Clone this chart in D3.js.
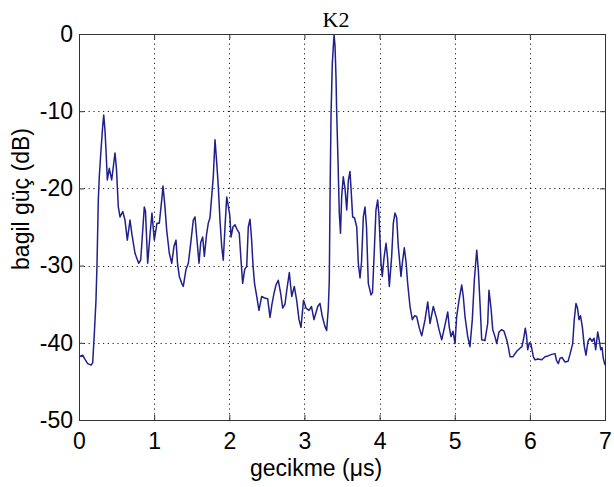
<!DOCTYPE html>
<html><head><meta charset="utf-8">
<script src="https://cdn.jsdelivr.net/npm/d3@7"></script>
<style>body{margin:0;background:#fff}svg{display:block}</style>
</head><body>
<script>
const title = "K2";
const xLabel = "gecikme (\u03BCs)";
const yLabel = "bagil güç (dB)";
const xTicks = [0,1,2,3,4,5,6,7];
const yTicks = [-50,-40,-30,-20,-10,0];
const delay = [0,0.049,0.084,0.116,0.160,0.182,0.204,0.226,0.240,0.257,0.270,0.293,0.315,0.329,0.346,0.359,0.377,0.403,0.435,0.459,0.479,0.499,0.523,0.546,0.582,0.612,0.643,0.679,0.705,0.745,0.794,0.821,0.869,0.885,0.914,0.945,0.971,1.002,1.038,1.069,1.105,1.118,1.144,1.167,1.202,1.234,1.264,1.291,1.311,1.335,1.367,1.388,1.424,1.455,1.487,1.521,1.544,1.566,1.597,1.620,1.646,1.668,1.697,1.721,1.743,1.766,1.787,1.810,1.833,1.854,1.876,1.899,1.920,1.943,1.966,1.990,2.007,2.023,2.049,2.076,2.103,2.133,2.156,2.178,2.205,2.232,2.253,2.276,2.296,2.316,2.336,2.365,2.395,2.431,2.469,2.511,2.542,2.568,2.595,2.622,2.652,2.682,2.711,2.741,2.768,2.799,2.831,2.865,2.897,2.928,2.954,2.988,3.021,3.061,3.094,3.127,3.177,3.207,3.238,3.274,3.296,3.318,3.331,3.340,3.354,3.371,3.394,3.407,3.420,3.429,3.447,3.464,3.480,3.496,3.517,3.540,3.563,3.584,3.606,3.620,3.642,3.666,3.696,3.717,3.740,3.760,3.784,3.806,3.826,3.850,3.886,3.906,3.930,3.952,3.975,3.992,4.019,4.036,4.059,4.086,4.106,4.130,4.161,4.183,4.205,4.228,4.249,4.285,4.305,4.329,4.352,4.374,4.405,4.436,4.465,4.494,4.529,4.561,4.605,4.641,4.671,4.715,4.758,4.791,4.827,4.864,4.907,4.928,4.951,4.977,5.004,5.026,5.057,5.093,5.114,5.137,5.173,5.203,5.234,5.261,5.293,5.314,5.337,5.359,5.403,5.439,5.456,5.483,5.506,5.536,5.559,5.589,5.625,5.656,5.692,5.713,5.736,5.776,5.825,5.869,5.895,5.922,5.939,5.955,5.971,5.993,6.015,6.046,6.068,6.108,6.158,6.202,6.241,6.291,6.335,6.355,6.379,6.401,6.428,6.468,6.508,6.534,6.570,6.591,6.614,6.634,6.654,6.674,6.698,6.725,6.747,6.774,6.800,6.827,6.854,6.876,6.903,6.920,6.943,6.960,6.977,7.000];
const power = [-41.8,-41.6,-42.2,-42.7,-42.9,-42.6,-38.8,-34.5,-29.7,-21.5,-18.5,-15.0,-12.0,-10.5,-12.5,-15.0,-18.9,-17.4,-18.9,-17.0,-15.4,-17.5,-22.4,-23.7,-23.0,-24.1,-26.7,-24.1,-26.0,-28.4,-29.7,-29.3,-22.4,-23.0,-29.7,-26.0,-23.2,-26.7,-24.5,-24.5,-21.1,-19.7,-22.4,-25.4,-28.4,-29.7,-27.5,-26.7,-29.7,-31.4,-32.3,-32.7,-30.5,-29.7,-27.1,-24.1,-23.7,-26.2,-29.7,-27.0,-26.3,-28.8,-26.0,-24.5,-23.8,-21.0,-18.5,-13.7,-16.7,-19.8,-24.1,-27.5,-29.3,-25.0,-21.1,-22.5,-23.5,-26.3,-25.0,-24.7,-25.3,-25.8,-29.3,-32.3,-30.5,-30.1,-25.0,-24.0,-26.5,-30.0,-32.3,-34.0,-35.8,-34.0,-34.2,-34.3,-36.7,-35.0,-33.6,-32.5,-31.9,-33.5,-35.5,-35.0,-33.0,-30.9,-34.0,-32.7,-34.5,-37.0,-38.0,-34.5,-35.5,-35.8,-35.3,-37.0,-35.3,-34.9,-36.6,-37.9,-38.4,-35.5,-31.9,-21.9,-10.5,-3.8,-0.1,-1.5,-5.5,-10.0,-16.5,-23.2,-25.8,-21.0,-18.5,-20.0,-22.8,-19.0,-17.8,-20.0,-23.7,-23.8,-25.0,-29.7,-31.6,-29.5,-23.7,-22.4,-25.0,-32.3,-33.8,-33.5,-28.0,-22.8,-21.5,-23.5,-29.7,-31.4,-29.0,-27.1,-29.0,-32.7,-28.8,-24.5,-23.2,-23.8,-27.5,-31.4,-29.5,-27.7,-29.5,-32.3,-35.3,-37.0,-36.5,-36.6,-38.1,-39.1,-37.0,-34.7,-37.5,-35.3,-36.8,-38.3,-39.6,-38.0,-36.0,-38.0,-39.2,-38.5,-40.1,-36.6,-34.5,-32.5,-34.0,-36.6,-39.2,-40.5,-37.0,-31.9,-28.0,-30.5,-34.9,-39.6,-39.7,-37.5,-33.2,-35.5,-38.3,-39.2,-40.1,-38.6,-38.3,-38.5,-39.6,-40.5,-41.8,-41.8,-41.1,-40.7,-40.5,-39.2,-38.1,-39.0,-40.9,-40.0,-40.2,-41.8,-42.2,-42.1,-42.2,-41.8,-41.7,-41.5,-41.4,-42.3,-42.7,-42.0,-41.9,-42.5,-42.4,-41.5,-40.1,-37.0,-34.9,-35.5,-37.0,-36.5,-37.9,-40.5,-41.6,-39.8,-39.4,-39.8,-39.4,-40.9,-38.6,-39.5,-40.9,-40.6,-42.0,-42.9];

const W = 614, H = 487;
const L = 79, R = 605, T = 34, B = 420;
const svg = d3.select("body").append("svg").attr("width", W).attr("height", H);
const x = d3.scaleLinear().domain([0, 7]).range([L, R]);
const y = d3.scaleLinear().domain([-50, 0]).range([B, T]);
const font = "'Liberation Sans', Arial, sans-serif";
const fs = 23;

// grid
const grid = svg.append("g").attr("stroke", "#222").attr("stroke-width", 1).attr("stroke-dasharray", "1.2,3.6");
grid.selectAll(".gx").data(xTicks.slice(1, -1)).join("line")
  .attr("x1", d => Math.round(x(d)) + 0.5).attr("x2", d => Math.round(x(d)) + 0.5)
  .attr("y1", T).attr("y2", B);
grid.selectAll(".gy").data(yTicks.slice(1, -1)).join("line")
  .attr("y1", d => Math.round(y(d)) + 0.5).attr("y2", d => Math.round(y(d)) + 0.5)
  .attr("x1", L).attr("x2", R);

// data line
const pts = delay.map((d, i) => [d, power[i]]);
svg.append("path").datum(pts)
  .attr("fill", "none").attr("stroke", "#20208c").attr("stroke-width", 1.5)
  .attr("stroke-linejoin", "round")
  .attr("d", d3.line().x(d => x(d[0])).y(d => y(d[1])));

// axes
function styleAxis(g, showText) {
  g.select(".domain").remove();
  g.selectAll(".tick line").attr("stroke", "#333");
  g.selectAll("text").attr("font-family", font).attr("font-size", fs).attr("fill", "#000");
  if (!showText) g.selectAll("text").remove();
}
svg.append("g").attr("transform", `translate(0,${B})`)
  .call(d3.axisBottom(x).tickValues(xTicks).tickFormat(d3.format("d")).tickSize(-5).tickPadding(13))
  .call(g => styleAxis(g, true));
svg.append("g").attr("transform", `translate(${L},0)`)
  .call(d3.axisLeft(y).tickValues(yTicks).tickFormat(d => d3.format("d")(d).replace("\u2212", "-")).tickSize(-5).tickPadding(6))
  .call(g => styleAxis(g, true));
svg.append("g").attr("transform", `translate(0,${T})`)
  .call(d3.axisTop(x).tickValues(xTicks).tickSize(-5))
  .call(g => styleAxis(g, false));
svg.append("g").attr("transform", `translate(${R},0)`)
  .call(d3.axisRight(y).tickValues(yTicks).tickSize(-5))
  .call(g => styleAxis(g, false));

// frame
svg.append("rect").attr("x", L + 0.5).attr("y", T + 0.5).attr("width", R - L).attr("height", B - T)
  .attr("fill", "none").attr("stroke", "#333").attr("stroke-width", 1);

// labels
svg.append("text").attr("x", 336).attr("y", 27).attr("text-anchor", "middle")
  .attr("font-family", "'Liberation Serif', 'Times New Roman', serif").attr("font-size", 22).text(title);
svg.append("text").attr("x", (L + R) / 2 - 26).attr("y", 476).attr("text-anchor", "middle")
  .attr("font-family", font).attr("font-size", fs).text(xLabel);
svg.append("text").attr("transform", "translate(29,199) rotate(-90)").attr("text-anchor", "middle")
  .attr("font-family", font).attr("font-size", fs).text(yLabel);
</script>
</body></html>
